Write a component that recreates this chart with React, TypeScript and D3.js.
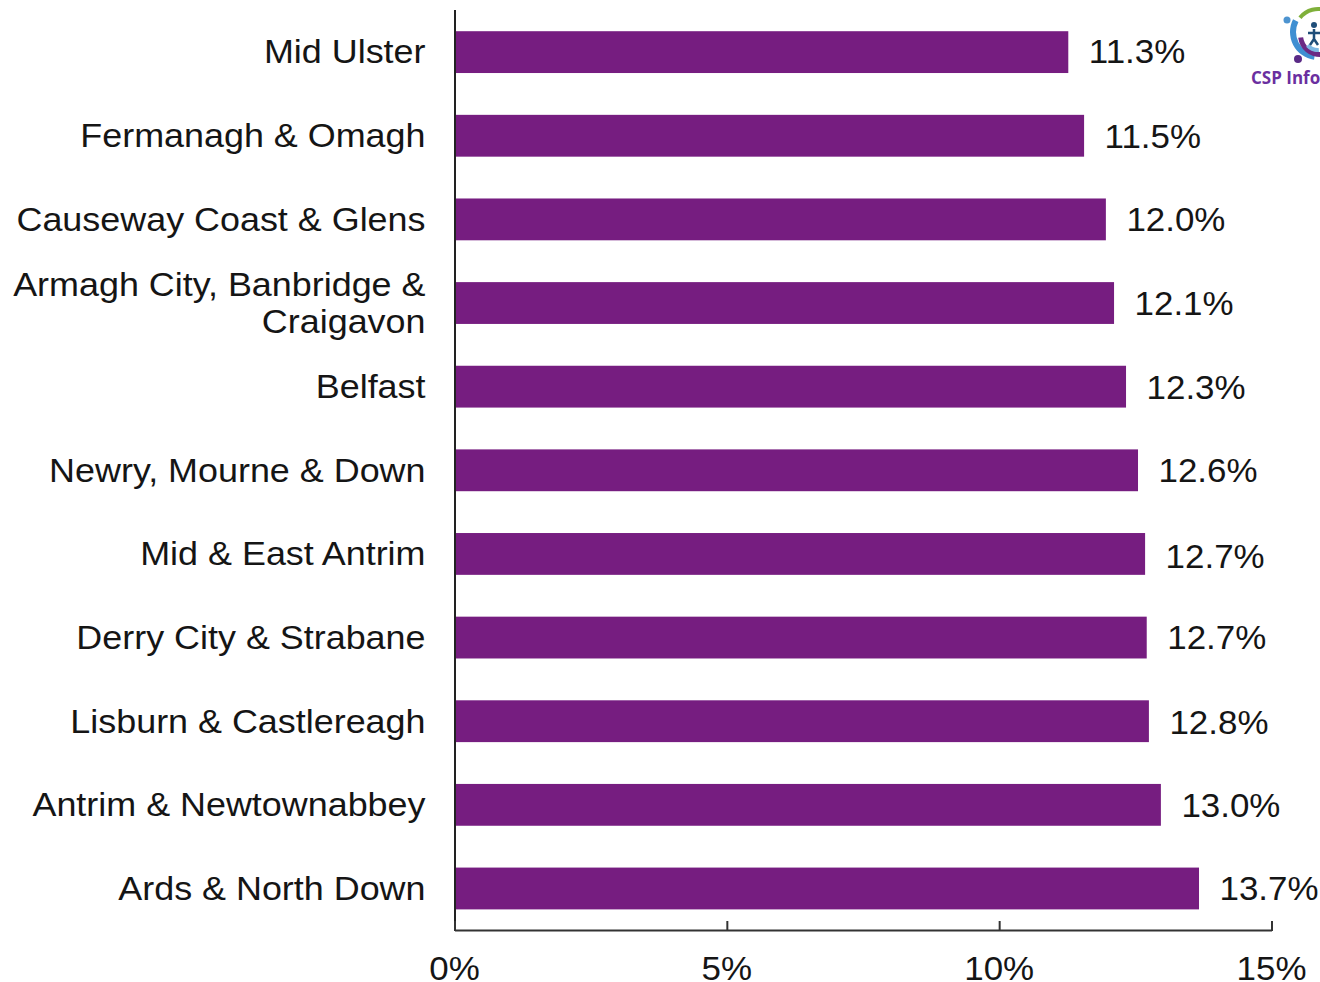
import React from "react";
import * as d3 from "d3";

const categories = ["Mid Ulster","Fermanagh & Omagh","Causeway Coast & Glens","Armagh City, Banbridge &|Craigavon","Belfast","Newry, Mourne & Down","Mid & East Antrim","Derry City & Strabane","Lisburn & Castlereagh","Antrim & Newtownabbey","Ards & North Down"];
const barValues = [11.26,11.55,11.95,12.1,12.32,12.54,12.67,12.7,12.74,12.96,13.66];
const valueLabels = ["11.3%","11.5%","12.0%","12.1%","12.3%","12.6%","12.7%","12.7%","12.8%","13.0%","13.7%"];
const labelNudge = [0,0.8,0.6,1,1,0,2.5,0.5,1.5,0.5,0.5];
const xTicks = [0,5,10,15];

const FONT = "'Liberation Sans', Arial, sans-serif";
const PURPLE = "#761d80";
const INK = "#151515";

export default function App() {
  const x = d3.scaleLinear().domain([0,15]).range([455,1272]);
  const y = d3.scaleBand<string>().domain(categories).range([10.3,930.3]).paddingInner(0.5).paddingOuter(0.25);
  const arc = d3.arc();
  const logoArcs = [
    {cx:1318,cy:32,r0:21,r1:25,a0:-0.9,a1:0.4,c:"#7fb03a"},
    {cx:1318,cy:32,r0:22,r1:28,a0:-3.0,a1:-1.1,c:"#3f8fd2"},
    {cx:1320,cy:35,r0:17,r1:22,a0:-3.2,a1:-1.7,c:"#6b2a84"},
    {cx:1318,cy:36,r0:12,r1:16,a0:-3.2,a1:-2.3,c:"#7db8e4"},
  ];
  return (
    <svg width={1320} height={982} style={{position:"absolute",left:0,top:0,background:"#fff"}} fontFamily={FONT}>
      {categories.map((c,i)=>{
        const by = y(c)!, bh = y.bandwidth(), mid = by+bh/2;
        const lines = c.split("|");
        return (
          <g key={c}>
            <rect x={x(0)} y={by} width={x(barValues[i])-x(0)} height={bh} fill={PURPLE}/>
            {lines.map((l,j)=>(
              <text key={j} transform={`translate(425.5,${mid+(j-(lines.length-1)/2)*36.5+11.3}) scale(1.105,1)`} textAnchor="end" fontSize={32.5} fill={INK}>{l}</text>
            ))}
            <text transform={`translate(${x(barValues[i])+20.5},${mid+11.2+labelNudge[i]}) scale(1.075,1)`} fontSize={32.5} fill={INK}>{valueLabels[i]}</text>
          </g>
        );
      })}
      <line x1={x(0)} x2={x(0)} y1={10} y2={931} stroke="#222" strokeWidth={2}/>
      <line x1={x(0)} x2={x(15)} y1={930.5} y2={930.5} stroke="#333" strokeWidth={2}/>
      {xTicks.map(t=>(
        <g key={t}>
          <line x1={x(t)} x2={x(t)} y1={921} y2={931} stroke="#333" strokeWidth={2}/>
          <text transform={`translate(${x(t)-0.5},980) scale(1.075,1)`} textAnchor="middle" fontSize={32.5} fill={INK}>{t}%</text>
        </g>
      ))}
      <g>
        {logoArcs.map((a,i)=>(
          <path key={i} transform={`translate(${a.cx},${a.cy})`} fill={a.c}
            d={arc({innerRadius:a.r0,outerRadius:a.r1,startAngle:a.a0,endAngle:a.a1})!}/>
        ))}
        <circle cx={1287} cy={20} r={3.5} fill="#4d94d0"/>
        <circle cx={1298} cy={59} r={4} fill="#5a2a86"/>
        <circle cx={1314} cy={25} r={3} fill="#1f4e79"/>
        <path d="M1314 29 L1314 39 M1308 33 L1320 33 M1314 39 L1310 45 M1314 39 L1318 45" stroke="#1f4e79" strokeWidth={2.5} fill="none"/>
        <text x={1251} y={84} fontFamily="'Open Sans', sans-serif" fontWeight={700} fontSize={17} fill="#6b2fa0">CSP Info</text>
      </g>
    </svg>
  );
}
